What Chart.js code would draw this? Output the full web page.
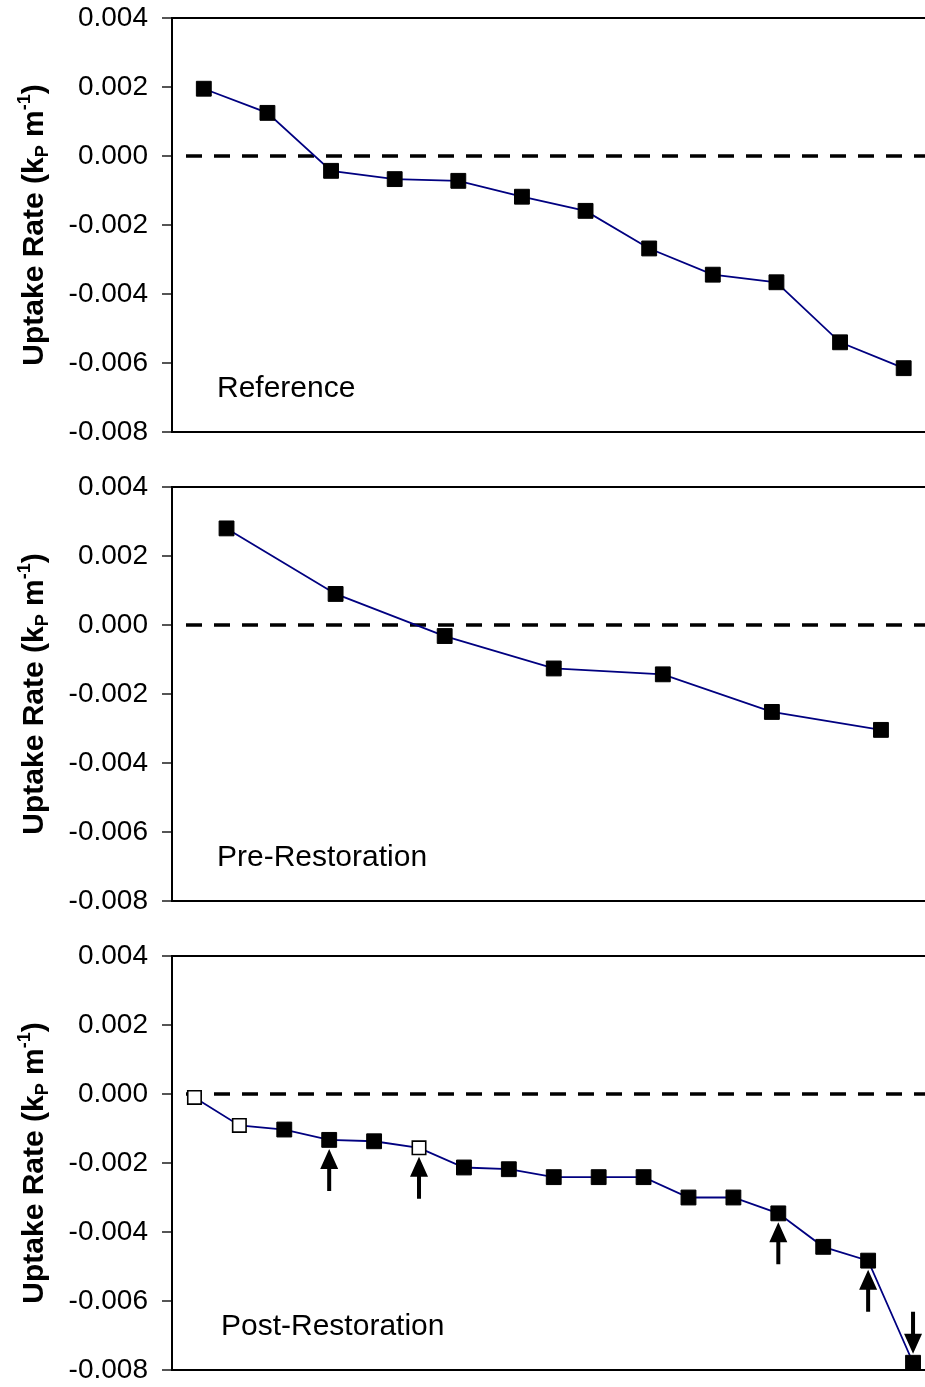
<!DOCTYPE html>
<html>
<head>
<meta charset="utf-8">
<title>Uptake Rate</title>
<script src="https://cdn.jsdelivr.net/npm/chart.js@4.4.0/dist/chart.umd.min.js"></script>
<style>
  html, body { margin: 0; padding: 0; background: #fff; overflow: hidden; }
  .panel { position: absolute; left: 0; width: 947px; height: 469px; }
</style>
</head>
<body>
<div class="panel" style="top:0px"><canvas id="chartRef" width="947" height="469"></canvas></div>
<div class="panel" style="top:469px"><canvas id="chartPre" width="947" height="469"></canvas></div>
<div class="panel" style="top:938px"><canvas id="chartPost" width="947" height="469"></canvas></div>
<script>
// uptake rates per site, sorted high to low
const refSites = ['1', '2', '3', '4', '5', '6', '7', '8', '9', '10', '11', '12'];
const refRates = [0.00195, 0.00125, -0.00043, -0.00067, -0.00072, -0.00118, -0.00159, -0.00268, -0.00344, -0.00366, -0.00540, -0.00615];

const preSites = ['1', '2', '3', '4', '5', '6', '7'];
const preRates = [0.00280, 0.00090, -0.00032, -0.00126, -0.00143, -0.00252, -0.00304];

const postSites = ['1', '2', '3', '4', '5', '6', '7', '8', '9', '10', '11', '12', '13', '14', '15', '16', '17'];
const postRates = [-0.00010, -0.00091, -0.00103, -0.00133, -0.00137, -0.00156, -0.00213, -0.00218, -0.00241, -0.00241, -0.00241, -0.00300, -0.00300, -0.00346, -0.00443, -0.00483, -0.00779];
const postOpen = [0, 1, 5];          // hollow markers
const postArrowsUp = [3, 5, 13, 15];
const postArrowsDown = [16];

const yTickValues = [-0.008, -0.006, -0.004, -0.002, 0, 0.002, 0.004];
const yTickLabels = ['-0.008', '-0.006', '-0.004', '-0.002', '0.000', '0.002', '0.004'];

const titleParts = [
    { text: 'Uptake Rate (k', small: false, shift: 0 },
    { text: 'P', small: true, shift: 5 },
    { text: ' m', small: false, shift: 0 },
    { text: '-1', small: true, shift: -13 },
    { text: ')', small: false, shift: 0 }
];

const FONT = "'Liberation Sans', Arial, sans-serif";

// box top edge, dashed zero line, arrows, panel name and y title
const decorPlugin = {
    id: 'decor',
    beforeDatasetsDraw(chart) {
        const ctx = chart.ctx;
        const a = chart.chartArea;
        const y0 = chart.scales.y.getPixelForValue(0);
        ctx.save();
        ctx.strokeStyle = '#000';
        ctx.lineWidth = 3.5;
        ctx.setLineDash([16, 12]);
        ctx.beginPath();
        ctx.moveTo(a.left + 14, y0);
        ctx.lineTo(a.right, y0);
        ctx.stroke();
        ctx.setLineDash([]);
        ctx.lineWidth = 2;
        ctx.beginPath();
        ctx.moveTo(a.left, a.top);
        ctx.lineTo(a.right + 10, a.top);
        ctx.stroke();
        ctx.restore();
    },
    afterDraw(chart, args, opts) {
        const ctx = chart.ctx;
        const a = chart.chartArea;
        const meta = chart.getDatasetMeta(0);
        ctx.save();
        ctx.fillStyle = '#000';

        const arrow = (x, tipY, dir) => {
            // dir = -1 points up, +1 points down
            const len = 42, head = 20, hw = 9, sw = 2;
            const baseY = tipY - dir * head;
            const tailY = tipY - dir * len;
            ctx.beginPath();
            ctx.moveTo(x, tipY);
            ctx.lineTo(x - hw, baseY);
            ctx.lineTo(x - sw, baseY);
            ctx.lineTo(x - sw, tailY);
            ctx.lineTo(x + sw, tailY);
            ctx.lineTo(x + sw, baseY);
            ctx.lineTo(x + hw, baseY);
            ctx.closePath();
            ctx.fill();
        };
        (opts.up || []).forEach(i => {
            const p = meta.data[i];
            arrow(p.x, p.y + 9, -1);
        });
        (opts.down || []).forEach(i => {
            const p = meta.data[i];
            arrow(p.x, p.y - 9, 1);
        });

        ctx.font = '30px ' + FONT;
        ctx.textAlign = 'left';
        ctx.textBaseline = 'alphabetic';
        ctx.fillText(opts.name, a.left + opts.nameX, a.top + 379);

        // rotated y title with sub/superscript
        const big = 'bold 30px ' + FONT, small = 'bold 18px ' + FONT;
        let total = 0;
        titleParts.forEach(p => {
            ctx.font = p.small ? small : big;
            total += ctx.measureText(p.text).width;
        });
        ctx.translate(43, (a.top + a.bottom) / 2);
        ctx.rotate(-Math.PI / 2);
        let x = -total / 2;
        titleParts.forEach(p => {
            ctx.font = p.small ? small : big;
            ctx.fillText(p.text, x, p.shift);
            x += ctx.measureText(p.text).width;
        });
        ctx.restore();
    }
};

function makePanel(id, sites, rates, name, nameX, openIdx, up, down) {
    const open = openIdx || [];
    return new Chart(document.getElementById(id), {
        type: 'line',
        data: {
            labels: sites,
            datasets: [{
                data: rates,
                borderColor: '#000080',
                borderWidth: 1.8,
                tension: 0,
                fill: false,
                pointStyle: 'rect',
                pointRadius: rates.map((v, i) => open.includes(i) ? 9.5 : 10.5),
                pointBackgroundColor: rates.map((v, i) => open.includes(i) ? '#fff' : '#000'),
                pointBorderColor: '#000',
                pointBorderWidth: rates.map((v, i) => open.includes(i) ? 1.6 : 1),
                clip: false
            }]
        },
        options: {
            responsive: false,
            animation: false,
            layout: { padding: { top: 18, bottom: 37, left: 0, right: 4 } },
            plugins: {
                legend: { display: false },
                tooltip: { enabled: false },
                decor: { name: name, nameX: nameX, up: up, down: down }
            },
            scales: {
                x: {
                    type: 'category',
                    offset: true,
                    ticks: { display: false },
                    grid: { display: false, drawTicks: false },
                    border: { display: true, color: '#000', width: 2 },
                    afterFit(s) { s.height = 0; }
                },
                y: {
                    min: -0.008,
                    max: 0.004,
                    afterBuildTicks(s) { s.ticks = yTickValues.map(v => ({ value: v })); },
                    ticks: {
                        color: '#000',
                        padding: 14,
                        font: { family: FONT, size: 28 },
                        callback: (v, i) => yTickLabels[i]
                    },
                    grid: { drawOnChartArea: false, tickLength: 10, color: '#555', lineWidth: 2 },
                    border: { display: true, color: '#000', width: 2 },
                    afterFit(s) {
                        s.width = 172;
                        s.paddingTop = 0;
                        s.paddingBottom = 0;
                    }
                }
            }
        },
        plugins: [decorPlugin]
    });
}

makePanel('chartRef', refSites, refRates, 'Reference', 45);
makePanel('chartPre', preSites, preRates, 'Pre-Restoration', 45);
makePanel('chartPost', postSites, postRates, 'Post-Restoration', 49, postOpen, postArrowsUp, postArrowsDown);
</script>
</body>
</html>
